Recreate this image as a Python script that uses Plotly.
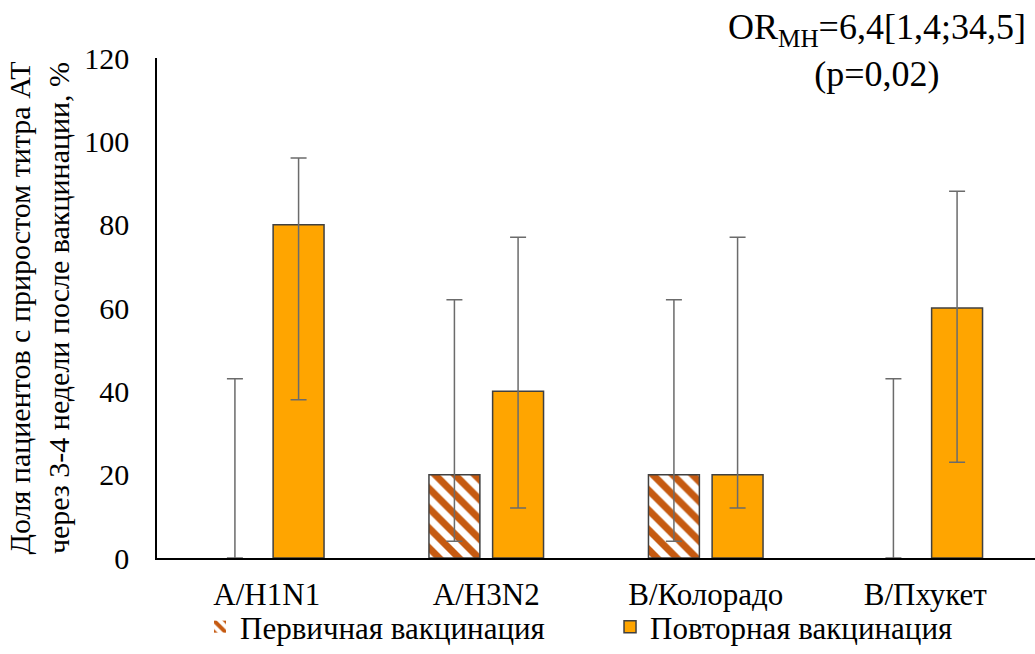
import plotly.graph_objects as go

categories = ["A/H1N1", "A/H3N2", "B/Колорадо", "B/Пхукет"]
primary = [0, 20, 20, 0]
primary_low = [0, 4, 4, 0]
primary_high = [43, 62, 62, 43]
repeat = [80, 40, 20, 60]
repeat_low = [38, 12, 12, 23]
repeat_high = [96, 77, 77, 88]

font_family = "Liberation Serif"
err_color = "#6b6b6b"

fig = go.Figure()
fig.add_trace(go.Bar(
    x=categories, y=primary, name="Первичная вакцинация",
    marker=dict(color="white",
                line=dict(color="#404040", width=[0 if v == 0 else 1.5 for v in primary]),
                pattern=dict(shape="\\", fgcolor="#C55A11", bgcolor="white", fgopacity=1,
                             size=14, solidity=0.5, fillmode="overlay")),
    error_y=dict(type="data", symmetric=False,
                 array=[h - v for h, v in zip(primary_high, primary)],
                 arrayminus=[v - l for v, l in zip(primary, primary_low)],
                 color=err_color, thickness=1.5, width=8),
))
fig.add_trace(go.Bar(
    x=categories, y=repeat, name="Повторная вакцинация",
    marker=dict(color="#FFA500", line=dict(color="#404040", width=1.5)),
    error_y=dict(type="data", symmetric=False,
                 array=[h - v for h, v in zip(repeat_high, repeat)],
                 arrayminus=[v - l for v, l in zip(repeat, repeat_low)],
                 color=err_color, thickness=1.5, width=8),
))

fig.update_layout(
    width=1035, height=654,
    margin=dict(l=157, r=0, t=58, b=96),
    paper_bgcolor="white", plot_bgcolor="white",
    barmode="group", bargap=0.42, bargroupgap=0.2,
    font=dict(family=font_family, color="black", size=24),
    showlegend=True,
    legend=dict(orientation="h", x=0.049, xanchor="left", y=-0.192, yanchor="bottom",
                bgcolor="rgba(0,0,0,0)",
                font=dict(size=31, family=font_family), itemwidth=30,
                tracegroupgap=0, entrywidth=365),
    xaxis=dict(showline=True, linecolor="black", linewidth=1.5, ticks="", automargin=False,
               tickfont=dict(size=31), showgrid=False, ticklabelstandoff=8),
    yaxis=dict(range=[0, 120], dtick=20, showline=True, linecolor="black", linewidth=1.5,
               showgrid=False, ticks="", tickfont=dict(size=30), zeroline=False,
               ticklabelstandoff=20, automargin=False,
               title=dict(text="Доля пациентов с приростом титра АТ<br>через 3-4 недели после вакцинации, %",
                          font=dict(size=30), standoff=6)),
    annotations=[dict(
        text="OR<sub>MH</sub>=6,4[1,4;34,5]<br>(p=0,02)",
        x=0.82, y=1.015, xref="paper", yref="paper",
        xanchor="center", yanchor="middle", showarrow=False,
        font=dict(size=36, family=font_family))],
)

fig.write_html("out.html")
